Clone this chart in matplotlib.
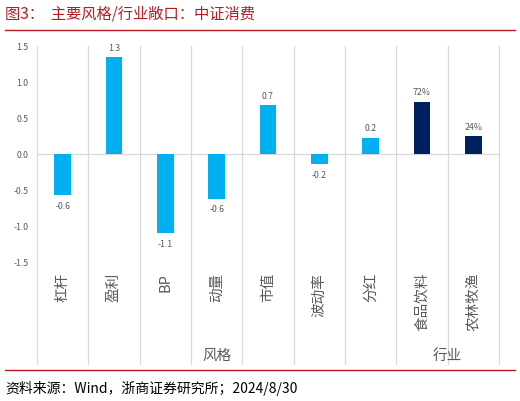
import matplotlib
matplotlib.use("Agg")
import matplotlib.pyplot as plt
import matplotlib.transforms as mtransforms

plt.rcParams['font.family'] = ['Noto Sans CJK SC', 'DejaVu Sans']

# 数据
categories = ['杠杆', '盈利', 'BP', '动量', '市值', '波动率', '分红', '食品饮料', '农林牧渔']
values = [-0.58, 1.34, -1.11, -0.63, 0.67, -0.15, 0.22, 0.72, 0.24]
labels = ['-0.6', '1.3', '-1.1', '-0.6', '0.7', '-0.2', '0.2', '72%', '24%']
groups = ['风格'] * 7 + ['行业'] * 2
yticks = [-1.5, -1.0, -0.5, 0.0, 0.5, 1.0, 1.5]

bar_colors = ['#00B0F0' if g == '风格' else '#002060' for g in groups]
grid_c = '#D9D9D9'
text_c = '#595959'

fig = plt.figure(figsize=(5.2, 4.02), dpi=100)
ax = fig.add_axes([37 / 520, 1 - 262 / 402, 462 / 520, 215 / 402])

x = list(range(len(categories)))
ax.bar(x, values, width=0.32, color=bar_colors, zorder=3)

for xi, v, lab in zip(x, values, labels):
    if v >= 0:
        ax.annotate(lab, (xi, v), xytext=(0, 4), textcoords='offset points',
                    ha='center', va='bottom', fontsize=6.3, color=text_c)
    else:
        ax.annotate(lab, (xi, v), xytext=(0, -4), textcoords='offset points',
                    ha='center', va='top', fontsize=6.3, color=text_c)

ax.set_xlim(-0.5, len(categories) - 0.5)
ax.set_ylim(-1.5, 1.5)
ax.set_yticks(yticks)
ax.set_yticklabels([f'{t:.1f}' for t in yticks], fontsize=6.3, color=text_c)
ax.tick_params(axis='y', length=0, pad=6)
ax.set_xticks([])
for s in ax.spines.values():
    s.set_visible(False)

ax.axhline(0, color=grid_c, lw=0.9, zorder=2)

# 竖向分隔线（延伸到类别标签区域）
trans = mtransforms.blended_transform_factory(ax.transData, ax.transAxes)
for b in [i - 0.5 for i in range(len(categories) + 1)]:
    ax.plot([b, b], [1.0, -0.48], color=grid_c, lw=0.9, transform=trans,
            clip_on=False, zorder=1)

# 类别标签
for xi, c in zip(x, categories):
    ax.text(xi, -0.05, c, transform=trans, rotation=90, ha='center', va='top',
            fontsize=10.5, color=text_c)

# 分组标签
ax.text(3, -0.435, '风格', transform=trans, ha='center', va='center',
        fontsize=10.5, color=text_c)
ax.text(7.5, -0.435, '行业', transform=trans, ha='center', va='center',
        fontsize=10.5, color=text_c)

# 标题与来源
red = '#B81C22'
fig.text(5 / 520, 1 - 14 / 402, '图3：  主要风格/行业敞口：中证消费', ha='left', va='center',
         fontsize=11, color=red)
fig.add_artist(plt.Line2D([5 / 520, 515 / 520], [1 - 31 / 402] * 2, color=red, lw=1.0))
fig.add_artist(plt.Line2D([5 / 520, 515 / 520], [1 - 371 / 402] * 2, color=red, lw=1.0))
fig.text(5 / 520, 1 - 388 / 402, '资料来源：Wind，浙商证券研究所；2024/8/30', ha='left', va='center',
         fontsize=10, color='black')

fig.savefig('out.png', dpi=100)
